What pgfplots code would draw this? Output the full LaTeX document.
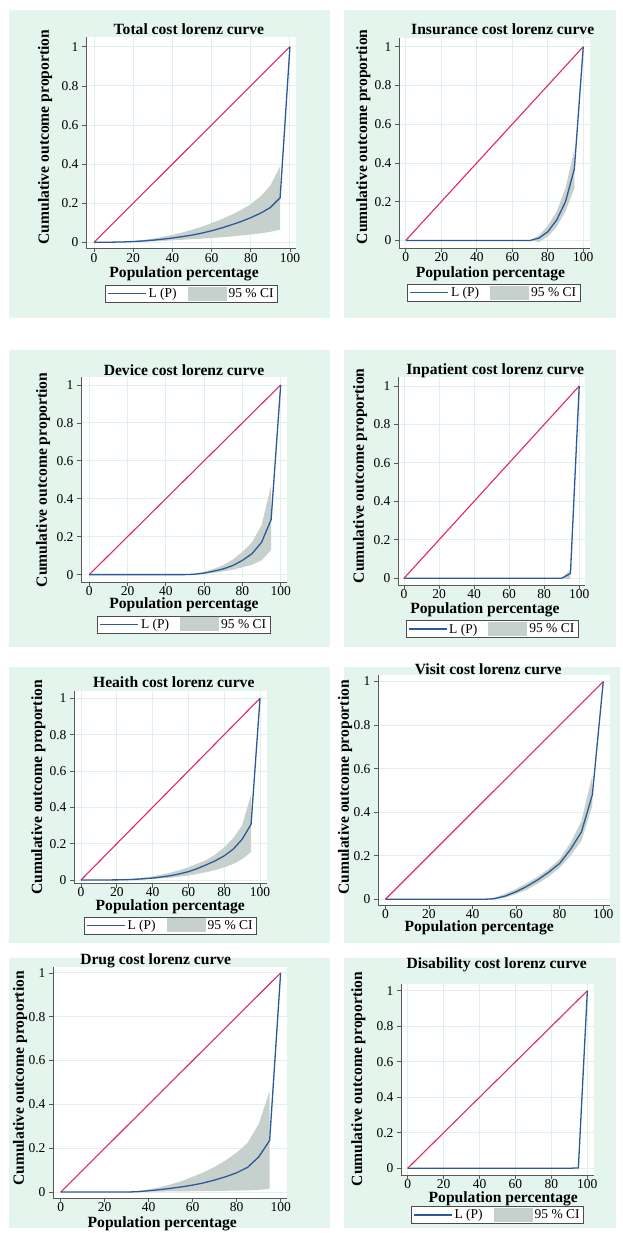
\documentclass[border=0pt]{standalone}
\usepackage{fontspec}
\setmainfont{Liberation Serif}
\usepackage{pgfplots}
\pgfplotsset{compat=1.18}
\definecolor{bggreen}{HTML}{E4F5EE}
\definecolor{gridc}{HTML}{E0F1EA}
\definecolor{cigray}{HTML}{C6D0CD}
\definecolor{lzred}{HTML}{E2285E}
\definecolor{lzblue}{HTML}{2C5A98}
\newcommand\bigbf{\fontsize{15.6}{17}\selectfont\bfseries}
\newcommand\tickf{\fontsize{13.5}{15}\selectfont}
\pgfplotsset{
 lz/.style={
  scale only axis,
  anchor=south west,
  axis lines*=left,
  axis line style={draw=black!65, line width=0.7pt},
  every tick/.style={draw=black!65, line width=0.7pt},
  major tick length=4pt,
  tick align=outside,
  axis background/.style={fill=white},
  grid style={draw=gridc, line width=0.9pt},
  xtick={0,20,40,60,80,100},
  ytick={0,0.2,0.4,0.6,0.8,1},
  xticklabels={0,20,40,60,80,100},
  yticklabels={0,0.2,0.4,0.6,0.8,1},
  tick label style={font=\tickf},
  xticklabel style={inner sep=0.5pt},
  every axis title/.style={font=\bigbf, anchor=center},
  every axis x label/.style={font=\bigbf, anchor=center, inner sep=0.5pt},
  every axis y label/.style={font=\bigbf, anchor=center, rotate=90},
  xlabel={Population percentage},
  ylabel={Cumulative outcome proportion},
  legend columns=2,
  legend style={draw=black!70, fill=white, line width=0.6pt, font=\tickf,
    anchor=center, inner xsep=2pt, inner ysep=1pt,
    /tikz/every even column/.append style={column sep=9pt}},
 },
 ci/.style={fill=cigray, draw=none, forget plot},
 diag/.style={lzred, line width=1.1pt, forget plot},
 lp/.style={lzblue, line width=1.3pt, forget plot},
 legline/.style={legend image code/.code={\draw[draw=lzblue, line width=1.3pt] (0pt,0pt) -- (38pt,0pt);}},
 legarea/.style={legend image code/.code={\fill[fill=cigray, draw=none] (0pt,-7pt) rectangle (39pt,7pt);}},
}
\newcommand\lzlegend{%
  \addlegendimage{legline}
  \addlegendentry{L (P)}
  \addlegendimage{legarea}
  \addlegendentry{95~\% CI}
}
\begin{document}
\begin{tikzpicture}
\useasboundingbox (0pt,0pt) rectangle (622pt,-1233pt);
\fill[white] (0pt,0pt) rectangle (622pt,-1233pt);
\fill[bggreen] (9pt,-10pt) rectangle (330pt,-318pt);
\fill[bggreen] (344pt,-10pt) rectangle (616pt,-318pt);
\fill[bggreen] (9pt,-350pt) rectangle (330pt,-647pt);
\fill[bggreen] (344pt,-350pt) rectangle (616pt,-647pt);
\fill[bggreen] (9pt,-667pt) rectangle (330pt,-943pt);
\fill[bggreen] (344pt,-667pt) rectangle (620pt,-943pt);
\fill[bggreen] (9pt,-958pt) rectangle (330pt,-1228pt);
\fill[bggreen] (344pt,-958pt) rectangle (616pt,-1228pt);

% ---------- Panel 1: Total
\begin{axis}[lz, at={(86pt,-248pt)}, width=210pt, height=211pt,
  xmin=-4.1, xmax=103.1, ymin=-0.029, ymax=1.05, grid=major,
  title={Total cost lorenz curve},
  title style={at={(axis description cs:0.49,1.038)}},
  xlabel style={at={(axis description cs:0.467,-0.123)}},
  xticklabel style={yshift=-1pt},
  ylabel style={at={(axis description cs:-0.195,0.526)}},
  legend style={at={(axis description cs:0.502,-0.216)}}]
\lzlegend
\addplot[ci] coordinates {(0,0)(5,0)(10,0.002)(15,0.004)(20,0.007)(25,0.012)(30,0.019)(35,0.028)(40,0.038)(45,0.05)(50,0.064)(55,0.08)(60,0.098)(65,0.118)(70,0.14)(75,0.165)(80,0.195)(85,0.235)(90,0.29)(95,0.39)(95,0.065)(90,0.054)(85,0.046)(80,0.04)(75,0.035)(70,0.03)(65,0.026)(60,0.022)(55,0.019)(50,0.016)(45,0.013)(40,0.01)(35,0.007)(30,0.005)(25,0.003)(20,0.002)(15,0.001)(10,0)(5,0)(0,0)} -- cycle;
\addplot[diag] coordinates {(0,0)(100,1)};
\addplot[lp] coordinates {(0,0)(5,0)(10,0.001)(15,0.002)(20,0.004)(25,0.007)(30,0.011)(35,0.016)(40,0.022)(45,0.029)(50,0.037)(55,0.047)(60,0.059)(65,0.073)(70,0.089)(75,0.106)(80,0.126)(85,0.149)(90,0.178)(95,0.228)(100,1)};
\end{axis}

% ---------- Panel 2: Insurance
\begin{axis}[lz, at={(399pt,-248pt)}, width=191pt, height=210pt,
  xmin=-3.8, xmax=103.8, ymin=-0.039, ymax=1.045, grid=major,
  title={Insurance cost lorenz curve},
  title style={at={(axis description cs:0.543,1.041)}},
  xlabel style={at={(axis description cs:0.479,-0.123)}},
  ylabel style={at={(axis description cs:-0.187,0.53)}},
  legend style={at={(axis description cs:0.497,-0.212)}}]
\lzlegend
\addplot[ci] coordinates {(70,0)(75,0.025)(80,0.075)(85,0.15)(90,0.27)(95,0.47)(95,0.27)(90,0.15)(85,0.07)(80,0.02)(75,-0.008)(70,0)} -- cycle;
\addplot[diag] coordinates {(0,0)(100,1)};
\addplot[lp] coordinates {(0,0)(70,0)(75,0.012)(80,0.045)(85,0.105)(90,0.2)(95,0.37)(100,1)};
\end{axis}

% ---------- Panel 3: Device
\begin{axis}[lz, at={(81pt,-582pt)}, width=206pt, height=205pt,
  xmin=-4.3, xmax=103.3, ymin=-0.039, ymax=1.042, grid=major,
  title={Device cost lorenz curve},
  title style={at={(axis description cs:0.5,1.034)}},
  xlabel style={at={(axis description cs:0.5,-0.112)}},
  ylabel style={at={(axis description cs:-0.184,0.498)}},
  legend style={at={(axis description cs:0.5,-0.207)}}]
\lzlegend
\addplot[ci] coordinates {(50,0)(55,0.004)(60,0.015)(65,0.03)(70,0.05)(75,0.08)(80,0.12)(85,0.17)(90,0.26)(95,0.47)(95,0.13)(90,0.075)(85,0.052)(80,0.038)(75,0.026)(70,0.017)(65,0.01)(60,0.004)(55,0.001)(50,0)} -- cycle;
\addplot[diag] coordinates {(0,0)(100,1)};
\addplot[lp] coordinates {(0,0)(50,0)(55,0.002)(60,0.008)(65,0.018)(70,0.03)(75,0.048)(80,0.075)(85,0.11)(90,0.17)(95,0.29)(100,1)};
\end{axis}

% ---------- Panel 4: Inpatient
\begin{axis}[lz, at={(398pt,-585pt)}, width=187pt, height=208pt,
  xmin=-3.4, xmax=103.3, ymin=-0.035, ymax=1.047, grid=major,
  title={Inpatient cost lorenz curve},
  title style={at={(axis description cs:0.52,1.029)}},
  xlabel style={at={(axis description cs:0.465,-0.118)}},
  ylabel style={at={(axis description cs:-0.203,0.525)}},
  legend style={at={(axis description cs:0.503,-0.212)}}]
\lzlegend
\addplot[ci] coordinates {(90,0)(95,0.045)(95,-0.005)(90,0)} -- cycle;
\addplot[diag] coordinates {(0,0)(100,1)};
\addplot[lp] coordinates {(0,0)(90,0)(95,0.025)(100,1)};
\end{axis}

% ---------- Panel 5: Health
\begin{axis}[lz, at={(74pt,-883.5pt)}, width=193pt, height=192.5pt,
  xmin=-3.9, xmax=103.9, ymin=-0.019, ymax=1.04, grid=major,
  title={Heaith cost lorenz curve},
  title style={at={(axis description cs:0.517,1.047)}},
  xlabel style={at={(axis description cs:0.499,-0.123)}},
  xticklabel style={yshift=1pt},
  ylabel style={at={(axis description cs:-0.185,0.499)}},
  legend style={at={(axis description cs:0.5,-0.218)}}]
\lzlegend
\addplot[ci] coordinates {(20,0)(30,0.007)(40,0.02)(50,0.04)(60,0.07)(70,0.11)(75,0.14)(80,0.18)(85,0.23)(90,0.3)(95,0.47)(95,0.155)(90,0.115)(85,0.088)(80,0.07)(75,0.055)(70,0.043)(60,0.025)(50,0.013)(40,0.006)(30,0.002)(20,0)} -- cycle;
\addplot[diag] coordinates {(0,0)(100,1)};
\addplot[lp] coordinates {(0,0)(20,0.001)(25,0.002)(30,0.004)(35,0.007)(40,0.011)(45,0.017)(50,0.024)(55,0.034)(60,0.046)(65,0.063)(70,0.084)(75,0.106)(80,0.133)(85,0.17)(90,0.224)(95,0.307)(100,1)};
\end{axis}

% ---------- Panel 6: Visit
\begin{axis}[lz, at={(378pt,-905pt)}, width=232pt, height=230pt,
  xmin=-3.4, xmax=103.1, ymin=-0.026, ymax=1.03, ymajorgrids,
  title={Visit cost lorenz curve},
  title style={at={(axis description cs:0.475,1.026)}},
  xlabel style={at={(axis description cs:0.436,-0.1)}},
  ylabel style={at={(axis description cs:-0.142,0.511)}}]
\addplot[ci] coordinates {(45,0)(50,0.008)(55,0.025)(60,0.048)(65,0.075)(70,0.105)(75,0.14)(80,0.185)(85,0.26)(90,0.36)(95,0.57)(95,0.43)(90,0.27)(85,0.2)(80,0.145)(75,0.105)(70,0.073)(65,0.045)(60,0.025)(55,0.008)(50,0)(45,0)} -- cycle;
\addplot[diag] coordinates {(0,0)(100,1)};
\addplot[lp] coordinates {(0,0)(45,0)(50,0.003)(55,0.015)(60,0.035)(65,0.06)(70,0.09)(75,0.125)(80,0.165)(85,0.23)(90,0.31)(95,0.48)(100,1)};
\end{axis}

% ---------- Panel 7: Drug
\begin{axis}[lz, at={(53pt,-1198pt)}, width=234pt, height=231pt,
  xmin=-3.5, xmax=102.9, ymin=-0.027, ymax=1.027, ymajorgrids,
  title={Drug cost lorenz curve},
  title style={at={(axis description cs:0.439,1.027)}},
  xlabel style={at={(axis description cs:0.467,-0.113)}},
  ylabel style={at={(axis description cs:-0.141,0.518)}}]
\addplot[ci] coordinates {(30,0)(35,0.005)(40,0.012)(45,0.022)(50,0.035)(55,0.05)(60,0.07)(65,0.09)(70,0.115)(75,0.145)(80,0.18)(85,0.225)(90,0.31)(95,0.46)(95,0.015)(90,0.01)(85,0.008)(80,0.007)(70,0.005)(60,0.004)(50,0.003)(40,0.002)(30,0)} -- cycle;
\addplot[diag] coordinates {(0,0)(100,1)};
\addplot[lp] coordinates {(0,0)(30,0)(35,0.002)(40,0.006)(45,0.011)(50,0.017)(55,0.024)(60,0.032)(65,0.042)(70,0.055)(75,0.07)(80,0.088)(85,0.113)(90,0.16)(95,0.235)(100,1)};
\end{axis}

% ---------- Panel 8: Disability
\begin{axis}[lz, at={(401pt,-1175pt)}, width=193pt, height=191pt,
  xmin=-3.7, xmax=103.7, ymin=-0.038, ymax=1.038, grid=major,
  title={Disability cost lorenz curve},
  title style={at={(axis description cs:0.496,1.099)}},
  xlabel style={at={(axis description cs:0.53,-0.122)}},
  ylabel style={at={(axis description cs:-0.221,0.503)}},
  legend style={at={(axis description cs:0.5,-0.209)}}]
\lzlegend
\addplot[diag] coordinates {(0,0)(100,1)};
\addplot[lp] coordinates {(0,0)(90,0)(95,0.002)(100,1)};
\end{axis}
\end{tikzpicture}
\end{document}
